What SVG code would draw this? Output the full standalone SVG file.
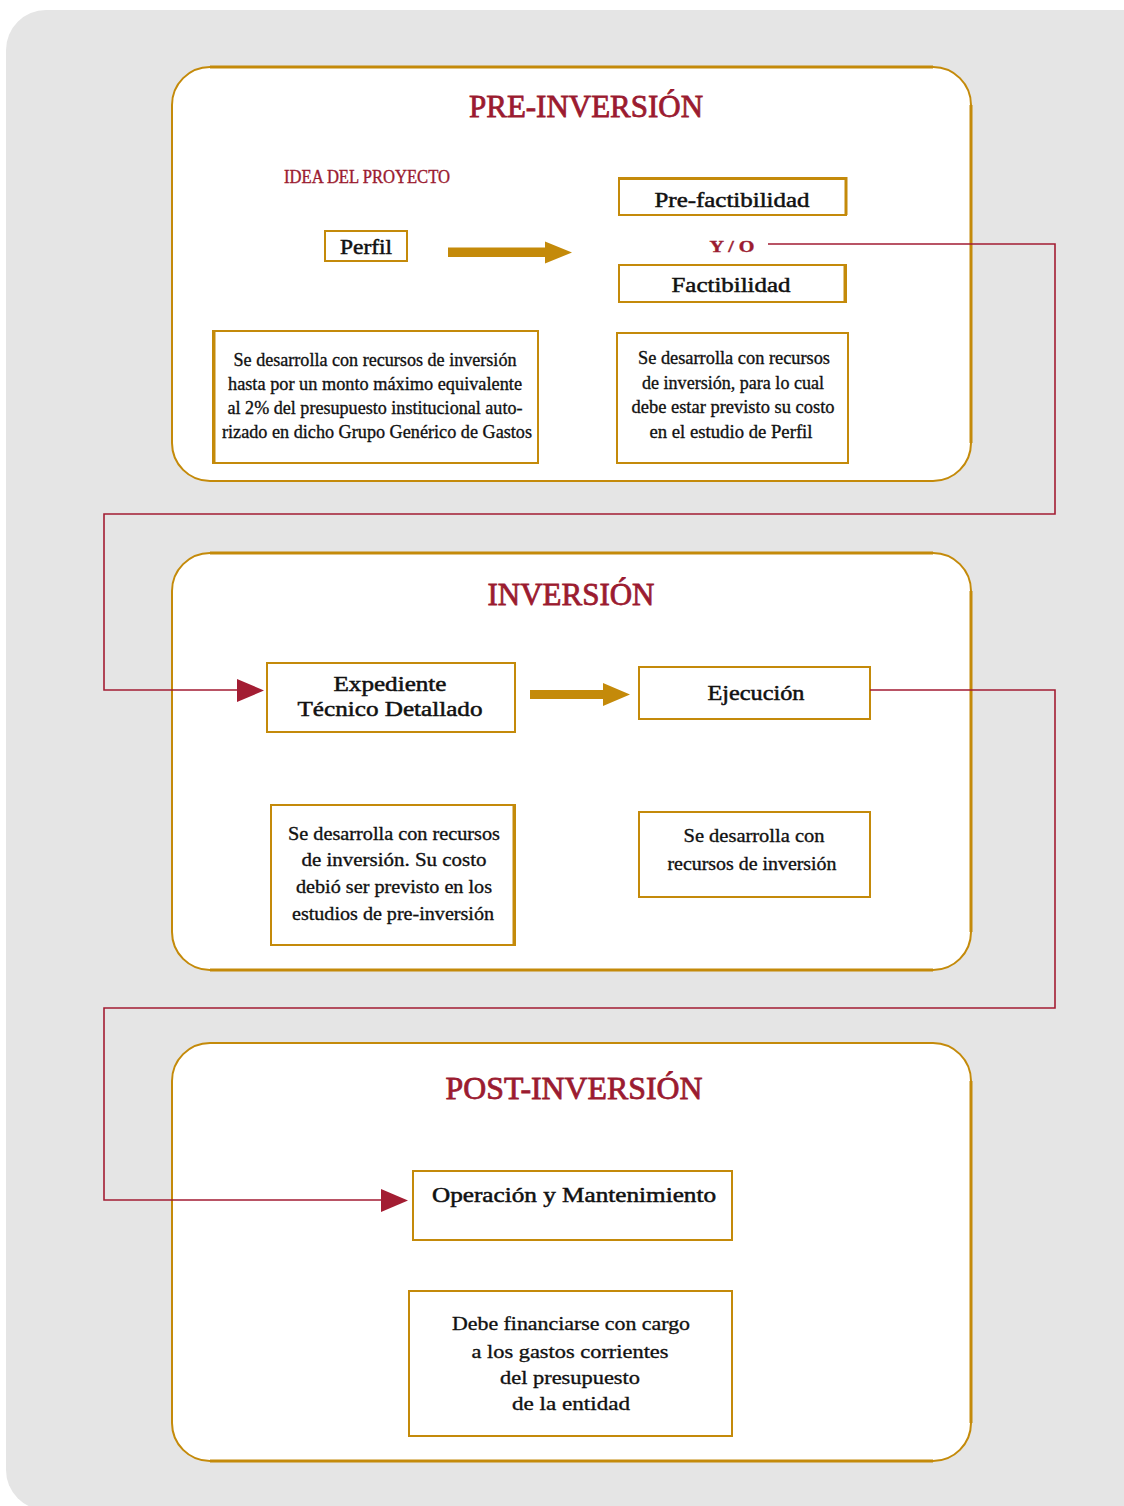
<svg xmlns="http://www.w3.org/2000/svg" width="1124" height="1506" viewBox="0 0 1124 1506">
<style>
.bg{fill:#e5e5e5}
.panel{fill:#ffffff;stroke:#c48a0a;stroke-width:2}
.edge{stroke:#c48a0a;stroke-width:3;fill:none}
.box{fill:#ffffff;stroke:#c48a0a;stroke-width:2}
.title{font-family:"Liberation Serif","Times New Roman",serif;font-size:32px;fill:#9b1b30;stroke:#9b1b30;stroke-width:0.8;text-anchor:middle}
.lbl{font-family:"Liberation Serif","Times New Roman",serif;font-size:21px;fill:#111;stroke:#111;stroke-width:0.5;text-anchor:middle}
.txt{font-family:"Liberation Serif","Times New Roman",serif;font-size:19px;fill:#111;stroke:#111;stroke-width:0.35;text-anchor:middle}
.red{font-family:"Liberation Serif","Times New Roman",serif;fill:#9b1b30;stroke:#9b1b30;stroke-width:0.4;text-anchor:middle}
.conn{fill:none;stroke:#a31d33;stroke-width:1.6}
.gold{fill:#c48a0a}
.redhead{fill:#a31d33}
</style>
<rect class="bg" x="6" y="10" width="1160" height="1500" rx="40" ry="40"/>

<g id="panel-pre">
<rect class="panel" x="172" y="67" width="799" height="414" rx="38" ry="38"/>
<path class="edge" d="M971 105 V443"/>
<path class="edge" d="M210 67 H933"/>
<text class="title" x="586" y="117" textLength="234" lengthAdjust="spacingAndGlyphs">PRE-INVERSIÓN</text>
</g>
<g id="panel-inv">
<rect class="panel" x="172" y="553" width="799" height="417" rx="38" ry="38"/>
<path class="edge" d="M971 591 V932"/>
<path class="edge" d="M210 553 H933"/>
<path class="edge" d="M210 970 H933"/>
<text class="title" x="571" y="605" textLength="167" lengthAdjust="spacingAndGlyphs">INVERSIÓN</text>
</g>
<g id="panel-post">
<rect class="panel" x="172" y="1043" width="799" height="418" rx="38" ry="38"/>
<path class="edge" d="M971 1081 V1423"/>
<path class="edge" d="M210 1461 H933"/>
<text class="title" x="574" y="1099" textLength="257" lengthAdjust="spacingAndGlyphs">POST-INVERSIÓN</text>
</g>

<g id="idea">
<text class="red" x="367" y="183" font-size="19" textLength="166" lengthAdjust="spacingAndGlyphs">IDEA DEL PROYECTO</text>
</g>
<g id="perfil">
<rect class="box" x="325" y="231" width="82" height="30"/>
<text class="lbl" x="366" y="254" textLength="52" lengthAdjust="spacingAndGlyphs">Perfil</text>
</g>
<g id="prefact">
<rect class="box" x="619" y="178" width="227" height="37"/>
<path class="edge" d="M619 178.5 H846 V215"/>
<text class="lbl" x="732" y="207" textLength="155" lengthAdjust="spacingAndGlyphs">Pre-factibilidad</text>
</g>
<g id="yo">
<text class="red" x="732" y="252" font-size="16" font-weight="bold" textLength="45" lengthAdjust="spacingAndGlyphs">Y / O</text>
</g>
<g id="fact">
<rect class="box" x="619" y="265" width="227" height="37"/>
<path class="edge" d="M845 265 V302"/>
<text class="lbl" x="731" y="292" textLength="119" lengthAdjust="spacingAndGlyphs">Factibilidad</text>
</g>
<g id="desc-perfil">
<rect class="box" x="213" y="331" width="325" height="132"/>
<path class="edge" d="M214 331 V463"/>
<text class="txt" x="375" y="366" textLength="283" lengthAdjust="spacingAndGlyphs">Se desarrolla con recursos de inversión</text>
<text class="txt" x="375" y="390" textLength="294" lengthAdjust="spacingAndGlyphs">hasta por un monto máximo equivalente</text>
<text class="txt" x="375" y="414" textLength="295" lengthAdjust="spacingAndGlyphs">al 2% del presupuesto institucional auto-</text>
<text class="txt" x="377" y="438" textLength="310" lengthAdjust="spacingAndGlyphs">rizado en dicho Grupo Genérico de Gastos</text>
</g>
<g id="desc-fact">
<rect class="box" x="617" y="333" width="231" height="130"/>
<text class="txt" x="734" y="364" textLength="192" lengthAdjust="spacingAndGlyphs">Se desarrolla con recursos</text>
<text class="txt" x="733" y="389" textLength="182" lengthAdjust="spacingAndGlyphs">de inversión, para lo cual</text>
<text class="txt" x="733" y="413" textLength="203" lengthAdjust="spacingAndGlyphs">debe estar previsto su costo</text>
<text class="txt" x="731" y="438" textLength="163" lengthAdjust="spacingAndGlyphs">en el estudio de Perfil</text>
</g>

<g id="expediente">
<rect class="box" x="267" y="663" width="248" height="69" stroke-width="3"/>
<text class="lbl" x="390" y="691" textLength="113" lengthAdjust="spacingAndGlyphs">Expediente</text>
<text class="lbl" x="390" y="716" textLength="185" lengthAdjust="spacingAndGlyphs">Técnico Detallado</text>
</g>
<g id="ejecucion">
<rect class="box" x="639" y="667" width="231" height="52"/>
<text class="lbl" x="756" y="700" textLength="97" lengthAdjust="spacingAndGlyphs">Ejecución</text>
</g>
<g id="desc-exp">
<rect class="box" x="271" y="805" width="244" height="140"/>
<path class="edge" d="M514 805 V945"/>
<text class="txt" x="394" y="840" font-size="20" textLength="212" lengthAdjust="spacingAndGlyphs">Se desarrolla con recursos</text>
<text class="txt" x="394" y="866" font-size="20" textLength="185" lengthAdjust="spacingAndGlyphs">de inversión.  Su costo</text>
<text class="txt" x="394" y="893" font-size="20" textLength="196" lengthAdjust="spacingAndGlyphs">debió ser previsto en los</text>
<text class="txt" x="393" y="920" font-size="20" textLength="202" lengthAdjust="spacingAndGlyphs">estudios de pre-inversión</text>
</g>
<g id="desc-ejec">
<rect class="box" x="639" y="812" width="231" height="85"/>
<text class="txt" x="754" y="842" font-size="20" textLength="141" lengthAdjust="spacingAndGlyphs">Se desarrolla con</text>
<text class="txt" x="752" y="870" font-size="20" textLength="169" lengthAdjust="spacingAndGlyphs">recursos de inversión</text>
</g>

<g id="operacion">
<rect class="box" x="413" y="1171" width="319" height="69"/>
<text class="lbl" x="574" y="1202" textLength="284" lengthAdjust="spacingAndGlyphs">Operación y Mantenimiento</text>
</g>
<g id="desc-oper">
<rect class="box" x="409" y="1291" width="323" height="145"/>
<text class="txt" x="571" y="1330" font-size="20" textLength="238" lengthAdjust="spacingAndGlyphs">Debe financiarse con cargo</text>
<text class="txt" x="570" y="1358" font-size="20" textLength="197" lengthAdjust="spacingAndGlyphs">a los gastos corrientes</text>
<text class="txt" x="570" y="1384" font-size="20" textLength="140" lengthAdjust="spacingAndGlyphs">del presupuesto</text>
<text class="txt" x="571" y="1410" font-size="20" textLength="118" lengthAdjust="spacingAndGlyphs">de la entidad</text>
</g>

<g id="connectors">
<path class="gold" d="M448 247.5 H545 V241.5 L572 252.5 L545 263.5 V257 H448 Z"/>
<path class="gold" d="M530 690 H603 V683 L630 694.5 L603 706 V699 H530 Z"/>
<path class="conn" d="M768 244 H1055 V514 H104 V690 H240"/>
<path class="redhead" d="M237 679 L264 690.5 L237 702 Z"/>
<path class="conn" d="M870 690 H1055 V1008 H104 V1200 H384"/>
<path class="redhead" d="M381 1189 L408 1200.5 L381 1212 Z"/>
</g>
</svg>
